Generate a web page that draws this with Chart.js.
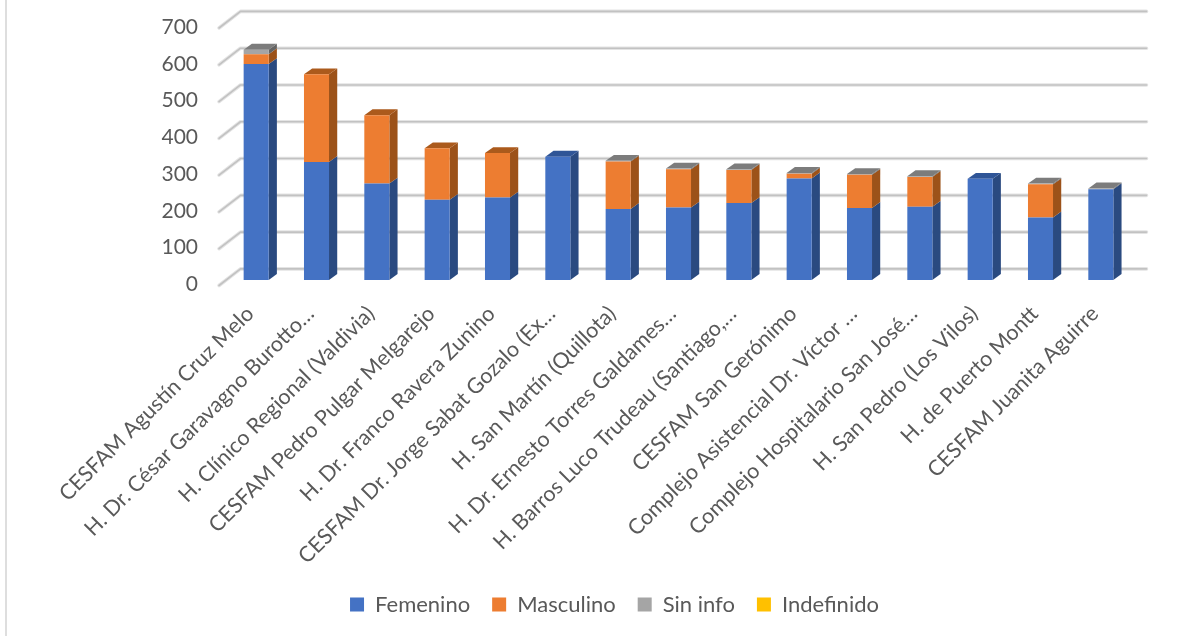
<!DOCTYPE html>
<html><head><meta charset="utf-8">
<style>
html,body{margin:0;padding:0;background:#fff;}
#wrap{position:relative;width:1202px;height:637px;overflow:hidden;}
#edge{position:absolute;left:5px;top:0;width:2px;height:636px;background:#dedede;}
canvas{position:absolute;left:0;top:0;filter:blur(0.45px);}
</style>
<script src="https://cdn.jsdelivr.net/npm/chart.js@4"></script>
</head><body>
<div id="wrap"><canvas id="c" width="1202" height="637"></canvas><div id="edge"></div></div>
<script>
const categories = ["CESFAM Agustín Cruz Melo","H. Dr. César Garavagno Burotto…","H. Clínico Regional (Valdivia)","CESFAM Pedro Pulgar Melgarejo","H. Dr. Franco Ravera Zunino","CESFAM Dr. Jorge Sabat Gozalo (Ex…","H. San Martín (Quillota)","H. Dr. Ernesto Torres Galdames…","H. Barros Luco Trudeau (Santiago,…","CESFAM San Gerónimo","Complejo Asistencial Dr. Víctor …","Complejo Hospitalario San José…","H. San Pedro (Los Vilos)","H. de Puerto Montt","CESFAM Juanita Aguirre"];
const femenino  = [587,321,262,218,224,335,193,197,209,276,196,199,275,170,247];
const masculino = [27,238,186,140,121,0,129,104,90,13,90,81,0,90,0];
const sinInfo   = [12,0,0,0,0,0,2,2,2,2,2,2,0,2,2];
const indefinido= [0,0,0,0,0,0,0,0,0,0,0,0,0,0,0];
const yTicks = [0,100,200,300,400,500,600,700];

const FONT = 'Lato, "Open Sans", sans-serif';
const TEXT = '#595959';
const DX = 8.2, DY = -5.9;
const shades = [
  {front:'#4472C4', side:'#2A4A80', top:'#2F5597'},
  {front:'#ED7D31', side:'#9C5219', top:'#AB5A1C'},
  {front:'#A5A5A5', side:'#636363', top:'#7C7C7C'},
  {front:'#FFC000', side:'#997300', top:'#BF9000'}
];
function poly(ctx, pts, fill){
  ctx.beginPath();
  pts.forEach((p,i)=> i?ctx.lineTo(p[0],p[1]):ctx.moveTo(p[0],p[1]));
  ctx.closePath(); ctx.fillStyle=fill; ctx.fill();
}
const depth3d = {
  id:'depth3d',
  beforeDatasetsDraw(chart){
    const ctx=chart.ctx, y=chart.scales.y, ca=chart.chartArea;
    ctx.save();
    yTicks.forEach(v=>{
      const py=y.getPixelForValue(v);
      const back=py-11.1, front=back+16.6;
      const path=()=>{ctx.beginPath();ctx.moveTo(ca.left-7,front);ctx.lineTo(ca.left+14.5,back);ctx.lineTo(ca.right+15.5,back);};
      ctx.lineCap='round';ctx.lineJoin='round';
      ctx.strokeStyle='#e4e4e4';ctx.lineWidth=3.6;path();ctx.stroke();
      ctx.strokeStyle='#c2c2c2';ctx.lineWidth=1.6;path();ctx.stroke();
    });
    categories.forEach((_,j)=>{
      let topSeg=-1;
      chart.data.datasets.forEach((d,i)=>{ if(d.data[j]>0) topSeg=i; });
      chart.data.datasets.forEach((d,i)=>{
        if(!(d.data[j]>0)) return;
        const b=chart.getDatasetMeta(i).data[j];
        const l=b.x-b.width/2, r=b.x+b.width/2, t=b.y, bt=b.base;
        poly(ctx,[[r,t],[r+DX,t+DY],[r+DX,bt+DY],[r,bt]],shades[i].side);
        if(i===topSeg) poly(ctx,[[l,t],[l+DX,t+DY],[r+DX,t+DY],[r,t]],shades[i].top);
      });
    });
    ctx.restore();
  }
};
const seriesNames=['Femenino','Masculino','Sin info','Indefinido'];
const seriesValues=[femenino,masculino,sinInfo,indefinido];
new Chart(document.getElementById('c'),{
  type:'bar',
  data:{labels:categories,datasets:seriesNames.map((n,i)=>({
    label:n,data:seriesValues[i],backgroundColor:shades[i].front,borderWidth:0,
    barPercentage:0.415,categoryPercentage:1
  }))},
  plugins:[depth3d],
  options:{
    responsive:false,animation:false,events:[],
    layout:{padding:{left:98,right:71,top:22.5,bottom:11.5}},
    plugins:{
      tooltip:{enabled:false},
      legend:{position:'bottom',labels:{boxWidth:14,boxHeight:14,padding:22,color:TEXT,font:{family:FONT,size:22}}}
    },
    scales:{
      x:{stacked:true,grid:{display:false},border:{display:false},
        afterFit(s){s.height=291.5;s.paddingLeft=0;s.paddingRight=0;},
        ticks:{autoSkip:false,minRotation:45,maxRotation:45,padding:13,labelOffset:-6,color:TEXT,font:{family:FONT,size:21.5}}},
      y:{stacked:true,min:0,max:700,grid:{display:false},border:{display:false},
        afterFit(s){s.width=128;s.paddingTop=0;s.paddingBottom=0;},
        afterBuildTicks(s){s.ticks=yTicks.map(v=>({value:v}));},
        ticks:{padding:20,labelOffset:4.5,color:TEXT,font:{family:FONT,size:21}}}
    }
  }
});
</script>
</body></html>
